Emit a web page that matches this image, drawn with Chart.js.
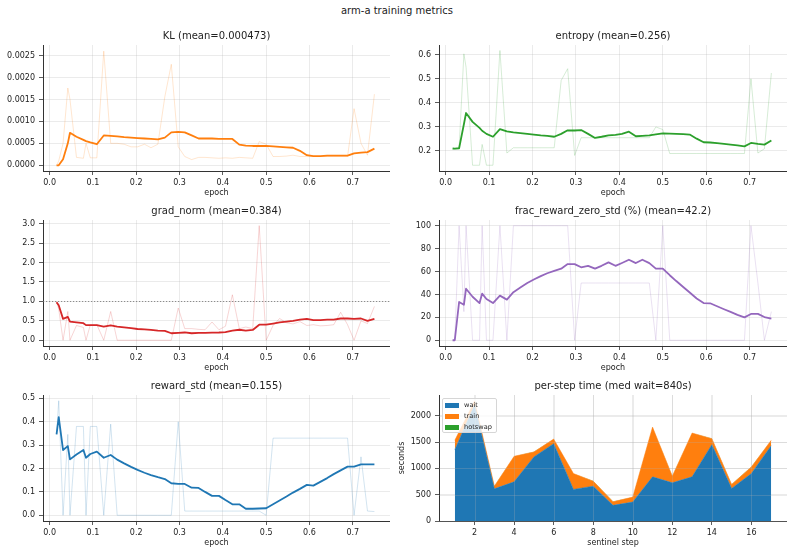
<!DOCTYPE html>
<html>
<head>
<meta charset="utf-8">
<script src="https://cdn.jsdelivr.net/npm/chart.js@4.4.1/dist/chart.umd.min.js"></script>
<style>
  body { margin: 0; background: #fff; width: 794px; height: 555px; position: relative; overflow: hidden;
         font-family: 'DejaVu Sans', sans-serif; color: #222; }
  canvas { position: absolute; }
  #sup { position: absolute; left: 0; top: 5px; width: 794px; text-align: center; font-size: 10px; line-height: 12px; }
  #leg { position: absolute; left: 442px; top: 398px; width: 55px; height: 35px; box-sizing: border-box;
         border: 1px solid #d6d6d6; border-radius: 2px; background: rgba(255,255,255,0.8); font-size: 6.6px; }
  #leg .sw { position: absolute; left: 2px; width: 14px; height: 5px; }
  #leg .tx { position: absolute; left: 21px; line-height: 8px; }
</style>
</head>
<body>
<div id="sup">arm-a training metrics</div>
<canvas id="kl" width="389" height="168" style="left:1px;top:30px"></canvas>
<canvas id="ent" width="390" height="168" style="left:397px;top:30px"></canvas>
<canvas id="grad" width="389" height="168" style="left:1px;top:205px"></canvas>
<canvas id="frac" width="390" height="168" style="left:397px;top:205px"></canvas>
<canvas id="rstd" width="389" height="168" style="left:1px;top:380px"></canvas>
<canvas id="time" width="390" height="168" style="left:397px;top:380px"></canvas>
<div id="leg"></div>
<script>
// epochs where metrics were logged
const epochs = [0.016, 0.021, 0.031, 0.042, 0.047, 0.062, 0.078, 0.084, 0.094, 0.109,
  0.125, 0.141, 0.156, 0.172, 0.188, 0.203, 0.219, 0.234, 0.25, 0.266,
  0.281, 0.297, 0.312, 0.328, 0.344, 0.359, 0.375, 0.391, 0.406, 0.422,
  0.438, 0.453, 0.469, 0.484, 0.5, 0.516, 0.531, 0.547, 0.562, 0.578,
  0.594, 0.609, 0.625, 0.641, 0.656, 0.672, 0.688, 0.703, 0.719, 0.734, 0.75];

const klRaw = [0, 0.0001, 0.0005, 0.00176, 0.0015, 0.00018, 0.00016, 0.0005, 0.00017, 0.00017,
  0.0026, 0.0005, 0.0005, 0.00048, 0.00042, 0.00042, 0.00048, 0.0004, 0.00048, 0.00156,
  0.0023, 0.00042, 0.0002, 0.00013, 0.00018, 0.00018, 0.00017, 0.00016, 0.00017, 0.00016,
  0.00018, 0.00017, 0.00016, 0.00054, 0.00048, 0.0002, 0.0002, 0.00021, 0.00023, 0.0002,
  0.0002, 0.0002, 0.0002, 0.0002, 0.0002, 0.0002, 0.0002, 0.00129, 0.0005, 0.00023, 0.00162];
const klSmooth = [0, 0, 0.00014, 0.0005, 0.00074, 0.00065, 0.00058, 0.00055, 0.00052, 0.00048,
  0.00068, 0.00067, 0.00066, 0.00064, 0.00063, 0.00062, 0.00061, 0.0006, 0.00059, 0.00063,
  0.00075, 0.00076, 0.00075, 0.00068, 0.00061, 0.00061, 0.00061, 0.0006, 0.0006, 0.0006,
  0.00047, 0.00045, 0.00044, 0.00044, 0.00044, 0.00043, 0.00042, 0.00041, 0.0004, 0.00033,
  0.00023, 0.00021, 0.00021, 0.00022, 0.00022, 0.00022, 0.00022, 0.00027, 0.00029, 0.0003, 0.00038];

const entRaw = [0.208, 0.206, 0.21, 0.604, 0.549, 0.139, 0.139, 0.226, 0.139, 0.139,
  0.618, 0.19, 0.212, 0.212, 0.212, 0.212, 0.212, 0.212, 0.212, 0.493,
  0.542, 0.18, 0.254, 0.254, 0.254, 0.254, 0.254, 0.254, 0.254, 0.254,
  0.254, 0.254, 0.254, 0.299, 0.288, 0.188, 0.188, 0.188, 0.188, 0.188,
  0.188, 0.188, 0.188, 0.188, 0.188, 0.188, 0.188, 0.5, 0.19, 0.208, 0.524];
const entSmooth = [0.209, 0.208, 0.21, 0.31, 0.357, 0.32, 0.295, 0.283, 0.27, 0.258,
  0.29, 0.28, 0.276, 0.273, 0.27, 0.267, 0.264, 0.262, 0.258, 0.27,
  0.285, 0.284, 0.286, 0.27, 0.253, 0.258, 0.264, 0.266, 0.27, 0.279,
  0.26, 0.262, 0.264, 0.268, 0.272, 0.271, 0.27, 0.269, 0.267, 0.25,
  0.235, 0.234, 0.231, 0.228, 0.225, 0.222, 0.218, 0.232, 0.228, 0.225, 0.242];

const gradRaw = [1.0, 0.8, 0, 0.74, 0, 0.38, 0.33, 0, 0.4, 0.4,
  0, 0.74, 0, 0, 0, 0, 0, 0, 0, 0,
  0, 0.83, 0.3, 0.3, 0.28, 0.27, 0.47, 0.27, 0.36, 1.17,
  0.3, 0.34, 0.3, 2.95, 0, 0.38, 0.56, 0.45, 0.42, 0.48,
  0.38, 0.4, 0.37, 0.38, 0.4, 0.72, 0.4, 0, 0.5, 0.43, 0.87];
const gradSmooth = [0.98, 0.9, 0.55, 0.6, 0.48, 0.46, 0.44, 0.39, 0.39, 0.39,
  0.35, 0.38, 0.35, 0.33, 0.31, 0.29, 0.28, 0.265, 0.25, 0.24,
  0.18, 0.19, 0.2, 0.18, 0.19, 0.19, 0.195, 0.2, 0.21, 0.25,
  0.27, 0.25, 0.265, 0.4, 0.4, 0.43, 0.46, 0.48, 0.5, 0.53,
  0.55, 0.52, 0.52, 0.53, 0.53, 0.56, 0.56, 0.55, 0.56, 0.5, 0.55];
const gradClip = 1.0;

const fracRaw = [0, 0, 100, 25, 100, 0, 0, 100, 0, 0,
  100, 0, 100, 100, 100, 100, 100, 100, 100, 100,
  100, 0, 50, 50, 50, 50, 50, 50, 50, 50,
  50, 50, 50, 0, 100, 0, 0, 0, 0, 0,
  0, 0, 0, 0, 0, 0, 0, 100, 50, 0, 25];
const fracSmooth = [0, 0, 33.4, 31, 45, 38, 32.5, 40.7, 36, 32.5,
  39, 35.5, 42, 46, 50, 53, 56, 58.5, 60.5, 62.5,
  66.5, 66.5, 63.7, 65, 62.5, 65, 68, 65, 67.5, 70.3,
  67.4, 70.3, 67.4, 62.5, 62.5, 56.8, 51.7, 46.5, 41.7, 36.5,
  32.5, 32.3, 29.7, 27.1, 24.8, 22.2, 20, 23, 23, 20.3, 18.9];

const rstdRaw = [0.346, 0.49, 0, 0.346, 0, 0.38, 0.38, 0, 0.38, 0.38,
  0, 0.39, 0, 0, 0, 0, 0, 0, 0, 0,
  0, 0.4, 0.018, 0.018, 0.018, 0.018, 0.018, 0.018, 0.018, 0.018,
  0.018, 0.018, 0.018, 0.018, 0, 0.33, 0.33, 0.33, 0.33, 0.33,
  0.33, 0.33, 0.33, 0.33, 0.33, 0.33, 0.33, 0, 0.25, 0.018, 0.016];
const rstdSmooth = [0.346, 0.42, 0.279, 0.296, 0.239, 0.26, 0.279, 0.246, 0.262, 0.272,
  0.246, 0.258, 0.238, 0.222, 0.207, 0.194, 0.182, 0.172, 0.163, 0.155,
  0.137, 0.134, 0.134, 0.118, 0.117, 0.1, 0.083, 0.083, 0.065, 0.047,
  0.047, 0.028, 0.028, 0.029, 0.03, 0.047, 0.063, 0.08, 0.097, 0.113,
  0.13, 0.127, 0.143, 0.159, 0.176, 0.192, 0.208, 0.208, 0.218, 0.218, 0.218];

// per sentinel step timing (seconds)
const steps = [1, 2, 3, 4, 5, 6, 7, 8, 9, 10, 11, 12, 13, 14, 15, 16, 17];
const waitSec = [1356, 2210, 612, 744, 1218, 1470, 600, 662, 297, 360, 839, 726, 839, 1451, 618, 902, 1432];
const trainSec = [177, 70, 50, 486, 94, 88, 302, 95, 69, 94, 946, 126, 833, 114, 76, 126, 101];
const hotswapSec = [3, 3, 3, 3, 3, 3, 3, 3, 3, 3, 3, 3, 3, 3, 3, 3, 3];
const stackNames = ['wait', 'train', 'hotswap'];

const epochTicks = [0, 0.1, 0.2, 0.3, 0.4, 0.5, 0.6, 0.7];
const klTicks = [0, 0.0005, 0.001, 0.0015, 0.002, 0.0025];
const entTicks = [0.2, 0.3, 0.4, 0.5, 0.6];
const gradTicks = [0, 0.5, 1, 1.5, 2, 2.5, 3];
const fracTicks = [0, 20, 40, 60, 80, 100];
const rstdTicks = [0, 0.1, 0.2, 0.3, 0.4, 0.5];
const stepTicks = [2, 4, 6, 8, 10, 12, 14, 16];
const secTicks = [0, 500, 1000, 1500, 2000];

Chart.defaults.font.family = "'DejaVu Sans', sans-serif";
Chart.defaults.color = '#222';
const GRID = 'rgba(176,176,176,0.32)';
const C = {
  orange: [255, 127, 14], green: [44, 160, 44], red: [214, 39, 40],
  purple: [148, 103, 189], blue: [31, 119, 180]
};
const rgba = (c, a) => `rgba(${c[0]},${c[1]},${c[2]},${a})`;

// axes title centred over the plot area (the built-in title centres on the canvas)
const panelTitle = {
  id: 'panelTitle',
  afterDraw(chart, args, opts) {
    const { ctx, chartArea: a } = chart;
    ctx.save();
    ctx.font = "10px 'DejaVu Sans'";
    ctx.fillStyle = '#222';
    ctx.textAlign = 'center';
    ctx.textBaseline = 'middle';
    ctx.fillText(opts.text, (a.left + a.right) / 2, a.top - 9);
    ctx.restore();
  }
};

function axis(min, max, ticks, fmt, title, horizontal) {
  return {
    type: 'linear', min, max,
    afterBuildTicks: s => { s.ticks = ticks.map(v => ({ value: v })); },
    afterFit: s => { if (horizontal) s.height = 27; else s.width = 42; },
    ticks: { callback: fmt, autoSkip: false, maxRotation: 0, font: { size: 8 }, color: '#222', padding: horizontal ? 3 : 4 },
    grid: { color: GRID, lineWidth: 0.8, tickColor: '#333', tickLength: 4, tickWidth: 0.8 },
    border: { color: '#333', width: 1 },
    title: title ? { display: true, text: title, font: { size: 8 }, color: '#222', padding: 0 } : { display: false }
  };
}

function baseOptions(title, x, y) {
  return {
    responsive: false, animation: false, events: [],
    layout: { padding: { top: 15 } },
    elements: { line: { tension: 0, borderJoinStyle: 'round' }, point: { radius: 0 } },
    plugins: {
      legend: { display: false }, tooltip: { enabled: false }, title: { display: false },
      panelTitle: { text: title }
    },
    scales: { x, y }
  };
}

const epochAxis = () => axis(-0.0153, 0.786, epochTicks, v => v.toFixed(1), 'epoch', true);

function epochPanel(id, title, raw, smooth, color, yMin, yMax, yTicks, yFmt, extra) {
  const pts = vals => epochs.map((e, i) => ({ x: e, y: vals[i] }));
  return new Chart(document.getElementById(id), {
    type: 'line',
    data: {
      datasets: [
        { data: pts(smooth), borderColor: rgba(color, 1), borderWidth: 1.8, pointRadius: 0 },
        { data: pts(raw), borderColor: rgba(color, 0.22), borderWidth: 0.9, pointRadius: 0 }
      ]
    },
    options: baseOptions(title, epochAxis(), axis(yMin, yMax, yTicks, yFmt, null, false)),
    plugins: [panelTitle].concat(extra || [])
  });
}

const clipLine = {
  id: 'clipLine',
  beforeDatasetsDraw(chart) {
    const { ctx, chartArea: a, scales: { y } } = chart;
    const py = Math.round(y.getPixelForValue(gradClip)) + 0.5;
    ctx.save();
    ctx.strokeStyle = 'rgba(110,110,110,0.85)';
    ctx.lineWidth = 0.9;
    ctx.setLineDash([1.2, 1.8]);
    ctx.beginPath(); ctx.moveTo(a.left, py); ctx.lineTo(a.right, py); ctx.stroke();
    ctx.restore();
  }
};

epochPanel('kl', 'KL (mean=0.000473)', klRaw, klSmooth, C.orange, -0.00013, 0.00274, klTicks, v => v.toFixed(4));
epochPanel('ent', 'entropy (mean=0.256)', entRaw, entSmooth, C.green, 0.115, 0.641, entTicks, v => v.toFixed(1));
epochPanel('grad', 'grad_norm (mean=0.384)', gradRaw, gradSmooth, C.red, -0.148, 3.095, gradTicks, v => v.toFixed(1), [clipLine]);
epochPanel('frac', 'frac_reward_zero_std (%) (mean=42.2)', fracRaw, fracSmooth, C.purple, -5, 105, fracTicks, v => String(v));
epochPanel('rstd', 'reward_std (mean=0.155)', rstdRaw, rstdSmooth, C.blue, -0.0245, 0.5145, rstdTicks, v => v.toFixed(1));

// matplotlib puts the grid above filled areas
const gridOnTop = {
  id: 'gridOnTop',
  afterDatasetsDraw(chart) {
    const { ctx, chartArea: a, scales: { x, y } } = chart;
    ctx.save();
    ctx.strokeStyle = GRID; ctx.lineWidth = 0.8;
    x.ticks.forEach(t => {
      const px = Math.round(x.getPixelForValue(t.value)) + 0.5;
      ctx.beginPath(); ctx.moveTo(px, a.top); ctx.lineTo(px, a.bottom); ctx.stroke();
    });
    y.ticks.forEach(t => {
      const py = Math.round(y.getPixelForValue(t.value)) + 0.5;
      ctx.beginPath(); ctx.moveTo(a.left, py); ctx.lineTo(a.right, py); ctx.stroke();
    });
    ctx.restore();
  }
};

const stackCols = ['#1f77b4', '#ff7f0e', '#2ca02c'];
const stackVals = [waitSec, trainSec, hotswapSec];
const ySec = axis(0, 2395, secTicks, v => String(v), 'seconds', false);
ySec.stacked = true;
new Chart(document.getElementById('time'), {
  type: 'line',
  data: {
    datasets: stackVals.map((vals, k) => ({
      label: stackNames[k],
      data: steps.map((s, i) => ({ x: s, y: vals[i] })),
      borderColor: stackCols[k], backgroundColor: stackCols[k],
      borderWidth: k === 2 ? 0 : 0.5, pointRadius: 0,
      fill: k === 0 ? 'origin' : '-1'
    }))
  },
  options: baseOptions('per-step time (med wait=840s)', axis(0.2, 17.8, stepTicks, v => String(v), 'sentinel step', true), ySec),
  plugins: [panelTitle, gridOnTop]
});

// legend box (upper left of the timing panel)
const leg = document.getElementById('leg');
stackNames.forEach((name, k) => {
  const cy = 6 + k * 11.2;
  const sw = document.createElement('div');
  sw.className = 'sw'; sw.style.top = (cy - 2.5) + 'px'; sw.style.background = stackCols[k];
  const tx = document.createElement('div');
  tx.className = 'tx'; tx.style.top = (cy - 4) + 'px'; tx.textContent = name;
  leg.appendChild(sw); leg.appendChild(tx);
});
</script>
</body>
</html>
